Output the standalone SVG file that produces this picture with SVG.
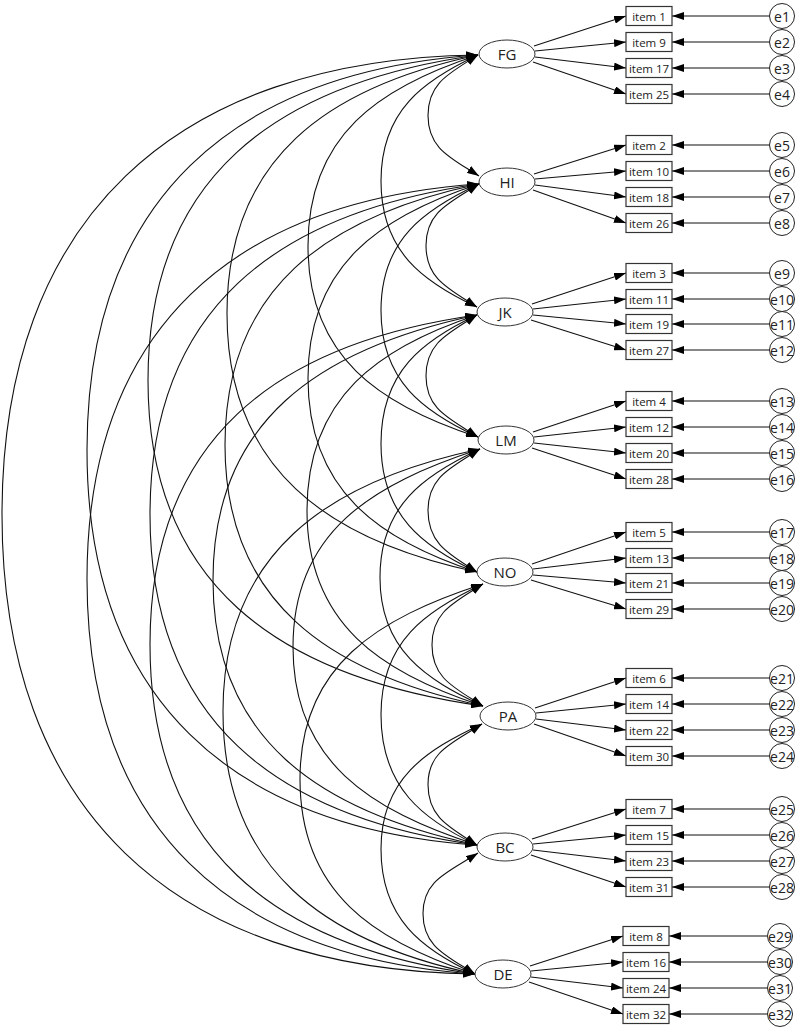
<svg xmlns="http://www.w3.org/2000/svg" width="800" height="1029" viewBox="0 0 800 1029">
<style>
.lat ellipse{fill:#fff;stroke:#333;stroke-width:1}
.box rect{fill:#fff;stroke:#333;stroke-width:1.2}
.err circle{fill:#fff;stroke:#222;stroke-width:1}
text{font-family:"Open Sans","Liberation Sans",sans-serif;fill:#222;text-anchor:middle;dominant-baseline:central}
.lat text{font-size:15px}
.box text{font-size:11.5px}
.err text{font-size:14px}
#connectors path{fill:none;stroke:#111;stroke-width:1.1}
.cov{marker-start:url(#ah);marker-end:url(#ah)}
.one{marker-end:url(#ah)}
</style>
<defs>
<marker id="ah" viewBox="0 0 12 8" refX="12" refY="4" markerWidth="12" markerHeight="8" markerUnits="userSpaceOnUse" orient="auto-start-reverse"><path d="M0,0 L12,4 L0,8 z" fill="#000"/></marker>
</defs>
<rect width="800" height="1029" fill="#fff"/>
<g id="connectors">
<!-- covariances, adjacent -->
<path class="cov" d="M478,55 C450.5,72.9 428,82.2 428,115.5 C428,148.8 450.9,157.8 479,176"/>
<path class="cov" d="M479,184 C449.8,202.9 426,211.7 426,245.5 C426,279.3 448.9,288.8 477,307"/>
<path class="cov" d="M477,315 C448.9,333.2 426,342.4 426,376 C426,409.6 449.4,418.4 478,437"/>
<path class="cov" d="M480,449 C451.4,467.6 428,476.7 428,510.5 C428,544.3 450,554.5 477,572"/>
<path class="cov" d="M483,584 C454.9,602.2 432,611.4 432,645 C432,678.6 454.9,687.8 483,706"/>
<path class="cov" d="M482,724 C452.3,743.3 428,751.2 428,784.5 C428,817.8 450,827.5 477,845"/>
<path class="cov" d="M478,853 C447.7,872.6 423,880.2 423,913.5 C423,946.8 446.4,955.4 475,974"/>
<!-- gap 2 -->
<path class="cov" d="M478,55 C423.7,80.3 381,110.4 381,181 C381,251.6 423.2,281.9 477,307"/>
<path class="cov" d="M479,184 C424.1,209.6 381,239.7 381,310.5 C381,381.3 423.7,411.7 478,437"/>
<path class="cov" d="M477,315 C423.2,340.1 381,371.5 381,443.5 C381,515.5 423.2,546.9 477,572"/>
<path class="cov" d="M480,449 C424,475.1 380,505.5 380,577.5 C380,649.5 425.3,679.1 483,706"/>
<path class="cov" d="M483,584 C425.9,610.6 381,641.4 381,714.5 C381,787.6 423.2,819.9 477,845"/>
<path class="cov" d="M482,724 C425.4,750.4 381,779 381,849 C381,919 422.4,949.5 475,974"/>
<!-- gap 3 -->
<path class="cov" d="M478,55 C379.4,87 308,135.2 308,246 C308,356.8 379.4,405 478,437"/>
<path class="cov" d="M479,184 C379.8,216.2 308,265.5 308,378 C308,490.5 379,540.1 477,572"/>
<path class="cov" d="M477,315 C379.4,347 307,397.1 307,510.5 C307,623.9 380.9,672.8 483,706"/>
<path class="cov" d="M480,449 C371.5,484.2 293,532.2 293,647 C293,761.8 370.3,810.3 477,845"/>
<path class="cov" d="M483,584 C376.9,618.5 300,665.9 300,779 C300,892.1 373.5,941 475,974"/>
<!-- gap 4 -->
<path class="cov" d="M478,55 C327.4,87 227,158.4 227,313.5 C227,468.6 327,540.1 477,572"/>
<path class="cov" d="M479,184 C326.6,216.4 225,288.4 225,445 C225,601.6 328.2,673.1 483,706"/>
<path class="cov" d="M477,315 C318.6,348.7 213,421 213,580 C213,739 318.6,811.3 477,845"/>
<path class="cov" d="M480,449 C325.8,481.8 223,554 223,711.5 C223,869 323.8,941.8 475,974"/>
<!-- gap 5 -->
<path class="cov" d="M478,55 C273.4,83.7 148,178.7 148,380.5 C148,582.3 275.3,676.8 483,706"/>
<path class="cov" d="M479,184 C275,212.7 150,309.6 150,514.5 C150,719.4 274.3,816.5 477,845"/>
<path class="cov" d="M477,315 C274.3,343.5 150,440.2 150,644.5 C150,848.8 273.5,945.7 475,974"/>
<!-- gap 6 -->
<path class="cov" d="M478,55 C231.7,72.2 87,201.1 87,450 C87,698.9 231.3,827.8 477,845"/>
<path class="cov" d="M479,184 C232,201.3 87,330.1 87,579 C87,827.9 230.6,956.9 475,974"/>
<!-- gap 7 -->
<path class="cov" d="M478,55 C173.4,59 2,220.4 2,514.5 C2,808.6 172.3,970 475,974"/>
<!-- loadings -->
<path class="one" d="M534,46 L626,16"/><path class="one" d="M535,51 L626,42"/><path class="one" d="M535,57 L626,68"/><path class="one" d="M533,62 L626,94"/>
<path class="one" d="M534,174 L626,145"/><path class="one" d="M535,179 L626,171"/><path class="one" d="M535,185 L626,197"/><path class="one" d="M533,190 L626,223"/>
<path class="one" d="M532,304 L626,273"/><path class="one" d="M533,309 L626,299"/><path class="one" d="M533,315 L626,324"/><path class="one" d="M531,320 L626,350"/>
<path class="one" d="M533,432 L626,401"/><path class="one" d="M534,437 L626,427"/><path class="one" d="M534,443 L626,453"/><path class="one" d="M532,448 L626,479"/>
<path class="one" d="M532,564 L626,532"/><path class="one" d="M533,569 L626,558"/><path class="one" d="M533,575 L626,583"/><path class="one" d="M531,580 L626,609"/>
<path class="one" d="M535,708 L626,678"/><path class="one" d="M536,713 L626,704"/><path class="one" d="M536,719 L626,730"/><path class="one" d="M534,724 L626,756"/>
<path class="one" d="M532,839 L626,809"/><path class="one" d="M533,844 L626,835"/><path class="one" d="M533,850 L626,861"/><path class="one" d="M531,855 L626,887"/>
<path class="one" d="M530,966 L623,936"/><path class="one" d="M531,971 L623,962"/><path class="one" d="M531,977 L623,988"/><path class="one" d="M529,982 L623,1014"/>
<!-- errors -->
<path class="one" d="M769.5,16 L672,16"/><path class="one" d="M769.5,42 L672,42"/><path class="one" d="M769.5,68 L672,68"/><path class="one" d="M769.5,94 L672,94"/>
<path class="one" d="M769.5,145 L672,145"/><path class="one" d="M769.5,171 L672,171"/><path class="one" d="M769.5,197 L672,197"/><path class="one" d="M769.5,223 L672,223"/>
<path class="one" d="M769.5,273 L672,273"/><path class="one" d="M769.5,299 L672,299"/><path class="one" d="M769.5,324 L672,324"/><path class="one" d="M769.5,350 L672,350"/>
<path class="one" d="M769.5,401 L672,401"/><path class="one" d="M769.5,427 L672,427"/><path class="one" d="M769.5,453 L672,453"/><path class="one" d="M769.5,479 L672,479"/>
<path class="one" d="M769.5,532 L672,532"/><path class="one" d="M769.5,558 L672,558"/><path class="one" d="M769.5,583 L672,583"/><path class="one" d="M769.5,609 L672,609"/>
<path class="one" d="M769.5,678 L672,678"/><path class="one" d="M769.5,704 L672,704"/><path class="one" d="M769.5,730 L672,730"/><path class="one" d="M769.5,756 L672,756"/>
<path class="one" d="M769.5,809 L672,809"/><path class="one" d="M769.5,835 L672,835"/><path class="one" d="M769.5,861 L672,861"/><path class="one" d="M769.5,887 L672,887"/>
<path class="one" d="M767.5,936 L669,936"/><path class="one" d="M767.5,962 L669,962"/><path class="one" d="M767.5,988 L669,988"/><path class="one" d="M767.5,1014 L669,1014"/>
</g>
<!-- latent factors -->
<g id="FG" class="lat"><ellipse cx="507" cy="54" rx="28" ry="14"/><text x="507" y="54">FG</text></g>
<g id="HI" class="lat"><ellipse cx="507" cy="182" rx="28" ry="14"/><text x="507" y="182">HI</text></g>
<g id="JK" class="lat"><ellipse cx="505" cy="312" rx="28" ry="14"/><text x="505" y="312">JK</text></g>
<g id="LM" class="lat"><ellipse cx="506" cy="440" rx="28" ry="14"/><text x="506" y="440">LM</text></g>
<g id="NO" class="lat"><ellipse cx="505" cy="572" rx="28" ry="14"/><text x="505" y="572">NO</text></g>
<g id="PA" class="lat"><ellipse cx="508" cy="716" rx="28" ry="14"/><text x="508" y="716">PA</text></g>
<g id="BC" class="lat"><ellipse cx="505" cy="847" rx="28" ry="14"/><text x="505" y="847">BC</text></g>
<g id="DE" class="lat"><ellipse cx="503" cy="974" rx="28" ry="14"/><text x="503" y="974">DE</text></g>
<!-- items -->
<g id="item1" class="box"><rect x="626" y="6.5" width="46" height="19"/><text x="649" y="16">item 1</text></g>
<g id="item9" class="box"><rect x="626" y="32.5" width="46" height="19"/><text x="649" y="42">item 9</text></g>
<g id="item17" class="box"><rect x="626" y="58.5" width="46" height="19"/><text x="649" y="68">item 17</text></g>
<g id="item25" class="box"><rect x="626" y="84.5" width="46" height="19"/><text x="649" y="94">item 25</text></g>
<g id="item2" class="box"><rect x="626" y="135.5" width="46" height="19"/><text x="649" y="145">item 2</text></g>
<g id="item10" class="box"><rect x="626" y="161.5" width="46" height="19"/><text x="649" y="171">item 10</text></g>
<g id="item18" class="box"><rect x="626" y="187.5" width="46" height="19"/><text x="649" y="197">item 18</text></g>
<g id="item26" class="box"><rect x="626" y="213.5" width="46" height="19"/><text x="649" y="223">item 26</text></g>
<g id="item3" class="box"><rect x="626" y="263.5" width="46" height="19"/><text x="649" y="273">item 3</text></g>
<g id="item11" class="box"><rect x="626" y="289.5" width="46" height="19"/><text x="649" y="299">item 11</text></g>
<g id="item19" class="box"><rect x="626" y="314.5" width="46" height="19"/><text x="649" y="324">item 19</text></g>
<g id="item27" class="box"><rect x="626" y="340.5" width="46" height="19"/><text x="649" y="350">item 27</text></g>
<g id="item4" class="box"><rect x="626" y="391.5" width="46" height="19"/><text x="649" y="401">item 4</text></g>
<g id="item12" class="box"><rect x="626" y="417.5" width="46" height="19"/><text x="649" y="427">item 12</text></g>
<g id="item20" class="box"><rect x="626" y="443.5" width="46" height="19"/><text x="649" y="453">item 20</text></g>
<g id="item28" class="box"><rect x="626" y="469.5" width="46" height="19"/><text x="649" y="479">item 28</text></g>
<g id="item5" class="box"><rect x="626" y="522.5" width="46" height="19"/><text x="649" y="532">item 5</text></g>
<g id="item13" class="box"><rect x="626" y="548.5" width="46" height="19"/><text x="649" y="558">item 13</text></g>
<g id="item21" class="box"><rect x="626" y="573.5" width="46" height="19"/><text x="649" y="583">item 21</text></g>
<g id="item29" class="box"><rect x="626" y="599.5" width="46" height="19"/><text x="649" y="609">item 29</text></g>
<g id="item6" class="box"><rect x="626" y="668.5" width="46" height="19"/><text x="649" y="678">item 6</text></g>
<g id="item14" class="box"><rect x="626" y="694.5" width="46" height="19"/><text x="649" y="704">item 14</text></g>
<g id="item22" class="box"><rect x="626" y="720.5" width="46" height="19"/><text x="649" y="730">item 22</text></g>
<g id="item30" class="box"><rect x="626" y="746.5" width="46" height="19"/><text x="649" y="756">item 30</text></g>
<g id="item7" class="box"><rect x="626" y="799.5" width="46" height="19"/><text x="649" y="809">item 7</text></g>
<g id="item15" class="box"><rect x="626" y="825.5" width="46" height="19"/><text x="649" y="835">item 15</text></g>
<g id="item23" class="box"><rect x="626" y="851.5" width="46" height="19"/><text x="649" y="861">item 23</text></g>
<g id="item31" class="box"><rect x="626" y="877.5" width="46" height="19"/><text x="649" y="887">item 31</text></g>
<g id="item8" class="box"><rect x="623" y="926.5" width="46" height="19"/><text x="646" y="936">item 8</text></g>
<g id="item16" class="box"><rect x="623" y="952.5" width="46" height="19"/><text x="646" y="962">item 16</text></g>
<g id="item24" class="box"><rect x="623" y="978.5" width="46" height="19"/><text x="646" y="988">item 24</text></g>
<g id="item32" class="box"><rect x="623" y="1004.5" width="46" height="19"/><text x="646" y="1014">item 32</text></g>
<!-- errors -->
<g id="e1" class="err"><circle cx="782" cy="16" r="12.5"/><text x="782" y="16">e1</text></g>
<g id="e2" class="err"><circle cx="782" cy="42" r="12.5"/><text x="782" y="42">e2</text></g>
<g id="e3" class="err"><circle cx="782" cy="68" r="12.5"/><text x="782" y="68">e3</text></g>
<g id="e4" class="err"><circle cx="782" cy="94" r="12.5"/><text x="782" y="94">e4</text></g>
<g id="e5" class="err"><circle cx="782" cy="145" r="12.5"/><text x="782" y="145">e5</text></g>
<g id="e6" class="err"><circle cx="782" cy="171" r="12.5"/><text x="782" y="171">e6</text></g>
<g id="e7" class="err"><circle cx="782" cy="197" r="12.5"/><text x="782" y="197">e7</text></g>
<g id="e8" class="err"><circle cx="782" cy="223" r="12.5"/><text x="782" y="223">e8</text></g>
<g id="e9" class="err"><circle cx="782" cy="273" r="12.5"/><text x="782" y="273">e9</text></g>
<g id="e10" class="err"><circle cx="782" cy="299" r="12.5"/><text x="782" y="299">e10</text></g>
<g id="e11" class="err"><circle cx="782" cy="324" r="12.5"/><text x="782" y="324">e11</text></g>
<g id="e12" class="err"><circle cx="782" cy="350" r="12.5"/><text x="782" y="350">e12</text></g>
<g id="e13" class="err"><circle cx="782" cy="401" r="12.5"/><text x="782" y="401">e13</text></g>
<g id="e14" class="err"><circle cx="782" cy="427" r="12.5"/><text x="782" y="427">e14</text></g>
<g id="e15" class="err"><circle cx="782" cy="453" r="12.5"/><text x="782" y="453">e15</text></g>
<g id="e16" class="err"><circle cx="782" cy="479" r="12.5"/><text x="782" y="479">e16</text></g>
<g id="e17" class="err"><circle cx="782" cy="532" r="12.5"/><text x="782" y="532">e17</text></g>
<g id="e18" class="err"><circle cx="782" cy="558" r="12.5"/><text x="782" y="558">e18</text></g>
<g id="e19" class="err"><circle cx="782" cy="583" r="12.5"/><text x="782" y="583">e19</text></g>
<g id="e20" class="err"><circle cx="782" cy="609" r="12.5"/><text x="782" y="609">e20</text></g>
<g id="e21" class="err"><circle cx="782" cy="678" r="12.5"/><text x="782" y="678">e21</text></g>
<g id="e22" class="err"><circle cx="782" cy="704" r="12.5"/><text x="782" y="704">e22</text></g>
<g id="e23" class="err"><circle cx="782" cy="730" r="12.5"/><text x="782" y="730">e23</text></g>
<g id="e24" class="err"><circle cx="782" cy="756" r="12.5"/><text x="782" y="756">e24</text></g>
<g id="e25" class="err"><circle cx="782" cy="809" r="12.5"/><text x="782" y="809">e25</text></g>
<g id="e26" class="err"><circle cx="782" cy="835" r="12.5"/><text x="782" y="835">e26</text></g>
<g id="e27" class="err"><circle cx="782" cy="861" r="12.5"/><text x="782" y="861">e27</text></g>
<g id="e28" class="err"><circle cx="782" cy="887" r="12.5"/><text x="782" y="887">e28</text></g>
<g id="e29" class="err"><circle cx="780" cy="936" r="12.5"/><text x="780" y="936">e29</text></g>
<g id="e30" class="err"><circle cx="780" cy="962" r="12.5"/><text x="780" y="962">e30</text></g>
<g id="e31" class="err"><circle cx="780" cy="988" r="12.5"/><text x="780" y="988">e31</text></g>
<g id="e32" class="err"><circle cx="780" cy="1014" r="12.5"/><text x="780" y="1014">e32</text></g>
</svg>
